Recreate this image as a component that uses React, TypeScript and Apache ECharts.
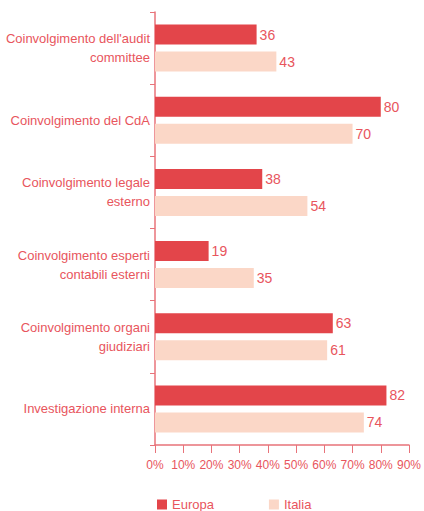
import React, { useEffect, useRef } from "react";
import * as echarts from "echarts";

const categories = [
  "Coinvolgimento dell'audit\ncommittee",
  "Coinvolgimento del CdA",
  "Coinvolgimento legale\nesterno",
  "Coinvolgimento esperti\ncontabili esterni",
  "Coinvolgimento organi\ngiudiziari",
  "Investigazione interna",
];
const europa = [36, 80, 38, 19, 63, 82];
const italia = [43, 70, 54, 35, 61, 74];
const xTicks = [0, 10, 20, 30, 40, 50, 60, 70, 80, 90];

const RED = "#E3454A";
const PINK = "#FBD7C7";
const TEXT = "#E8555D";
const AXIS = "#E8737A";
const FONT = "Liberation Sans, Arial, sans-serif";

export default function App() {
  const ref = useRef<HTMLDivElement>(null);
  useEffect(() => {
    const chart = echarts.init(ref.current!, null, { renderer: "svg" });
    chart.setOption({
      animation: false,
      textStyle: { fontFamily: FONT },
      grid: { left: 155, right: 12, top: 12, bottom: 66, containLabel: false },
      legend: {
        left: 152,
        top: 493,
        itemWidth: 10,
        itemHeight: 10,
        itemGap: 55,
        icon: "rect",
        textStyle: { color: TEXT, fontSize: 13, fontFamily: FONT },
        data: ["Europa", "Italia"],
      },
      xAxis: {
        type: "value",
        min: xTicks[0],
        max: xTicks[xTicks.length - 1],
        interval: 10,
        splitLine: { show: false },
        axisLine: { show: true, lineStyle: { color: AXIS, width: 1.5 } },
        axisTick: { show: true, length: 8, lineStyle: { color: AXIS } },
        axisLabel: {
          color: TEXT,
          fontSize: 12,
          margin: 14,
          formatter: (v: number) => v + "%",
        },
      },
      yAxis: {
        type: "category",
        inverse: true,
        data: categories,
        axisLine: { show: true, lineStyle: { color: AXIS, width: 1.5 } },
        axisTick: { show: true, length: 5, lineStyle: { color: AXIS } },
        axisLabel: {
          color: TEXT,
          fontSize: 13,
          margin: 5,
          align: "right",
          lineHeight: 19,
        },
      },
      series: [
        {
          name: "Europa",
          type: "bar",
          data: europa,
          barWidth: 20,
          barGap: "35%",
          itemStyle: { color: RED },
          label: { show: true, position: "right", distance: 3, color: TEXT, fontSize: 14 },
        },
        {
          name: "Italia",
          type: "bar",
          data: italia,
          barWidth: 20,
          itemStyle: { color: PINK },
          label: { show: true, position: "right", distance: 3, color: TEXT, fontSize: 14 },
        },
      ],
    });
    return () => chart.dispose();
  }, []);
  return <div ref={ref} style={{ width: 424, height: 511, position: "absolute", left: 0, top: 0 }} />;
}
